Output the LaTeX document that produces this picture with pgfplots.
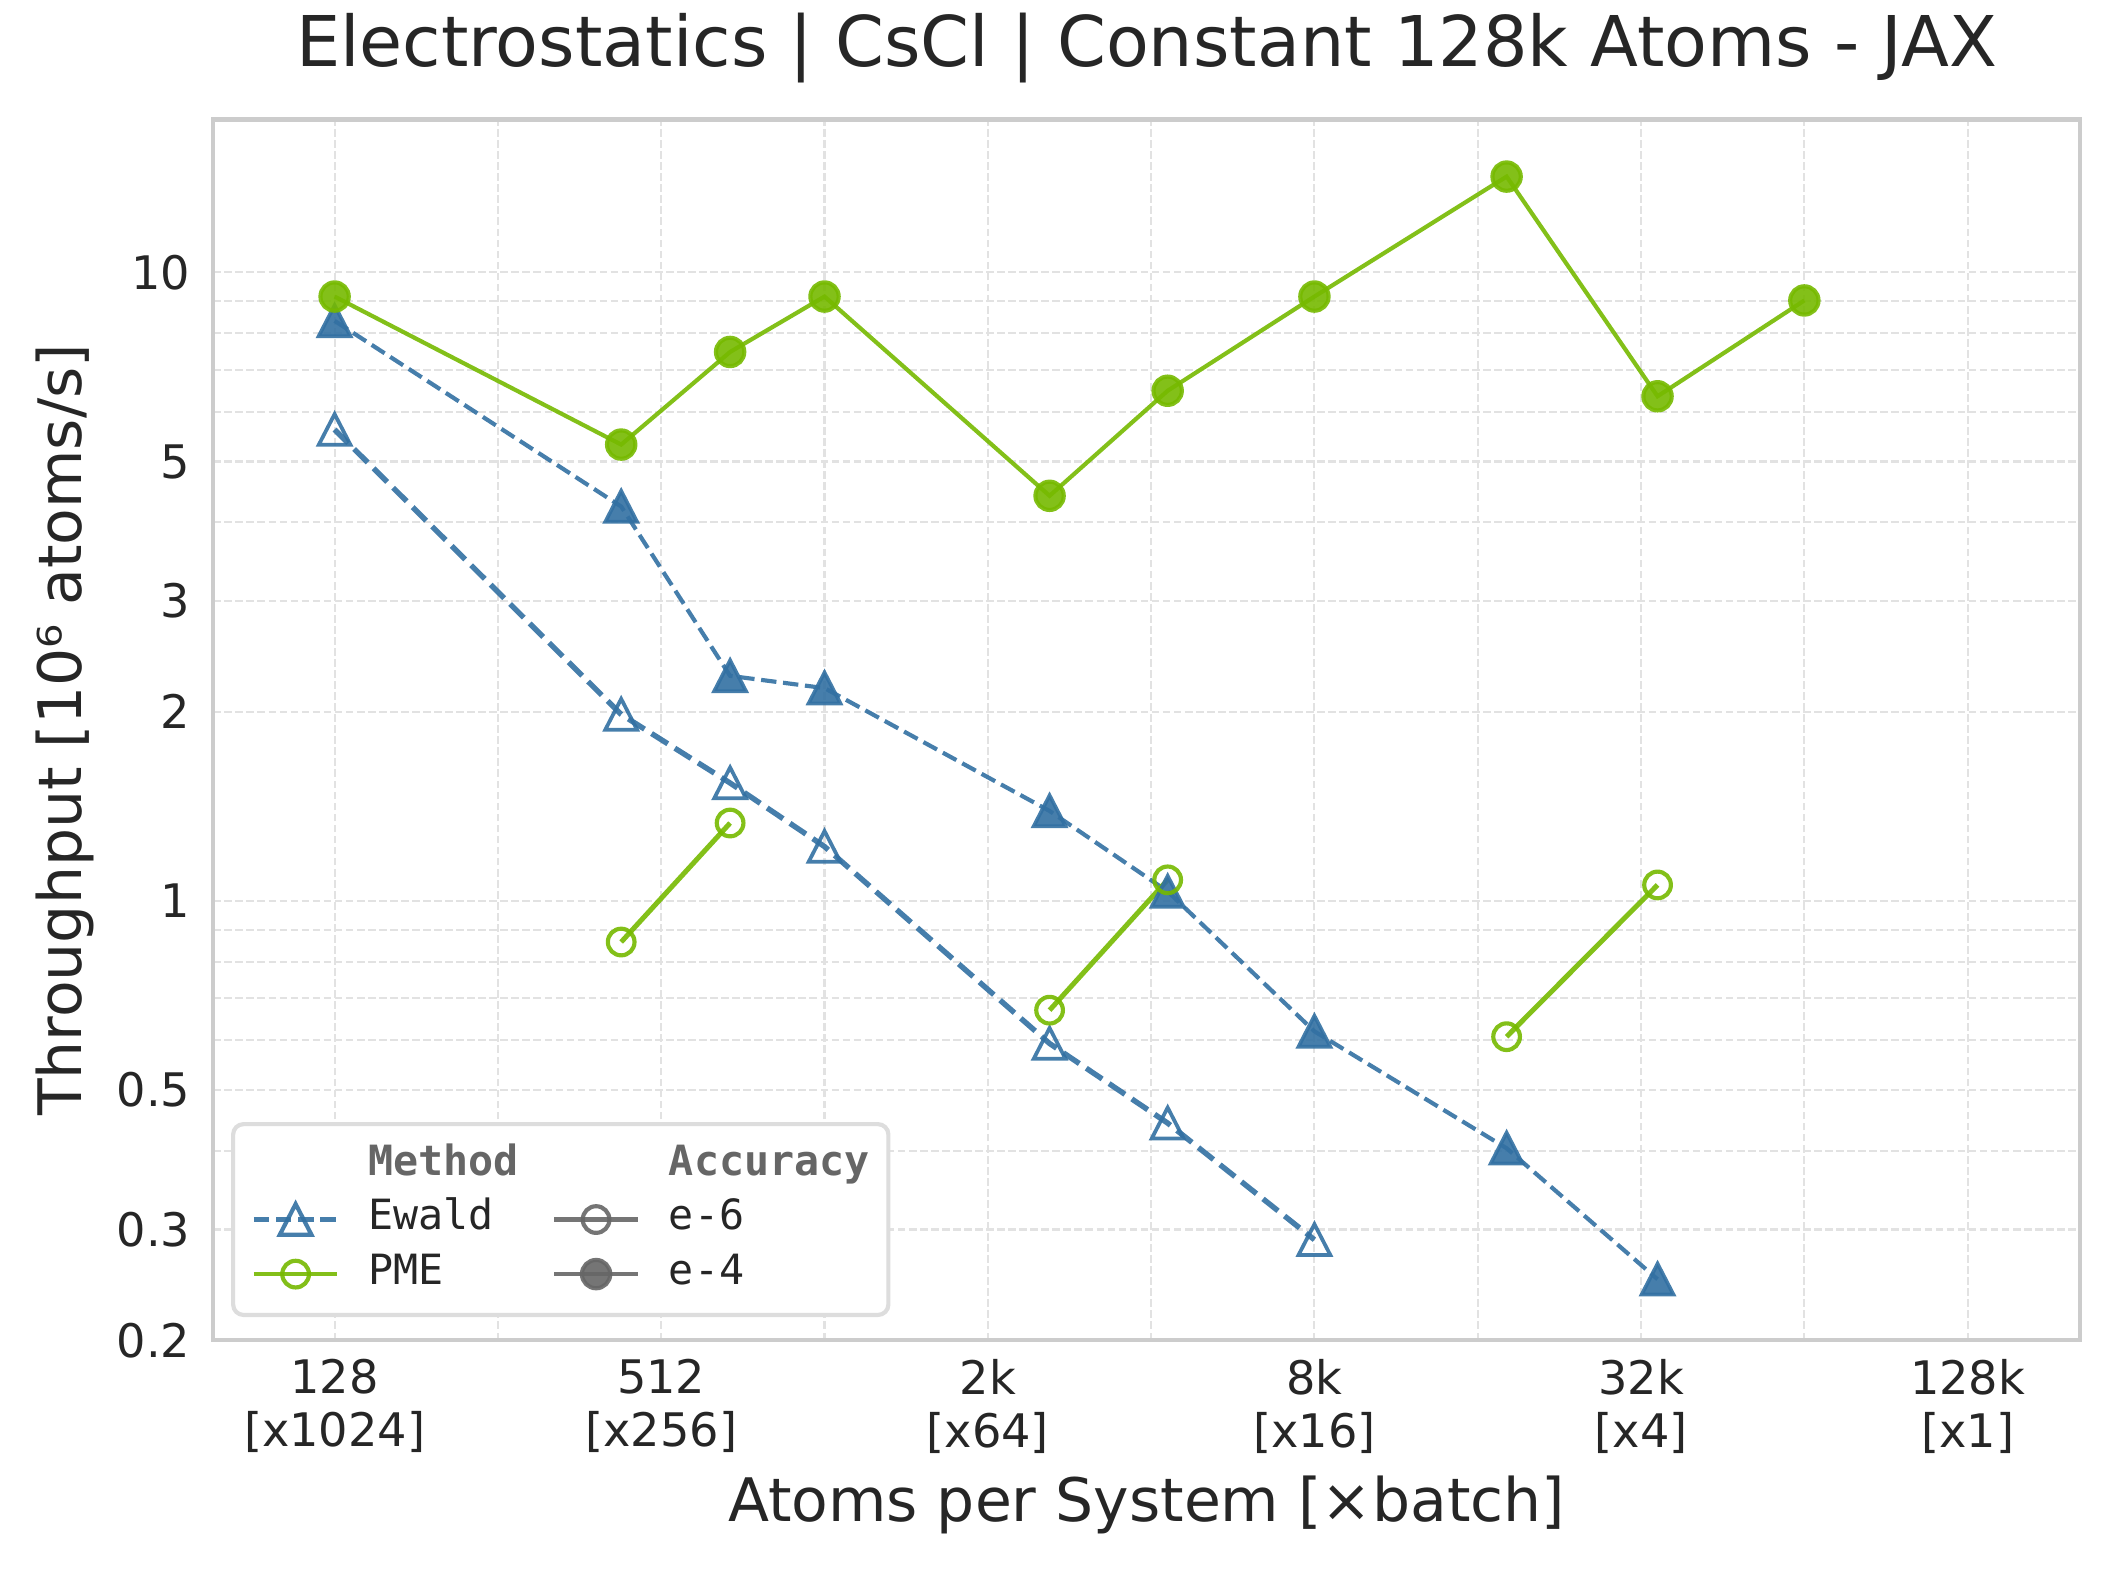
\documentclass[border=0pt]{standalone}
\usepackage{fontspec}
\setmainfont{DejaVu Sans}
\setmonofont{DejaVu Sans Mono}
\usepackage{pgfplots}
\pgfplotsset{compat=1.18}
\definecolor{nvgreen}{RGB}{118,185,0}
\definecolor{ewblue}{RGB}{50,112,162}
\definecolor{txt}{RGB}{38,38,38}
\definecolor{spine}{RGB}{204,204,204}
\definecolor{gridc}{RGB}{226,226,226}
\definecolor{leggray}{RGB}{102,102,102}
\definecolor{legedge}{RGB}{221,221,221}
\begin{document}
\begin{tikzpicture}
\begin{axis}[
  scale only axis, width=448bp, height=293bp,
  xmode=log, ymode=log,
  xmin=76.5, xmax=210900, ymin=0.2, ymax=17.5,
  xtick={128,512,2048,8192,32768,131072},
  xticklabels={{128\\{[x1024]}},{512\\{[x256]}},{2k\\{[x64]}},{8k\\{[x16]}},{32k\\{[x4]}},{128k\\{[x1]}}},
  minor xtick={256,1024,4096,16384,65536},
  ytick={0.2,0.3,0.5,1,2,3,5,10},
  yticklabels={0.2,0.3,0.5,1,2,3,5,10},
  minor ytick={0.4,0.6,0.7,0.8,0.9,4,6,7,8,9},
  grid=both,
  major grid style={draw=gridc, line width=0.5bp, dash pattern=on 1.85bp off 0.8bp},
  minor grid style={draw=gridc, line width=0.5bp, dash pattern=on 1.85bp off 0.8bp},
  major tick length=0pt, minor tick length=0pt,
  tick style={draw=none},
  axis line style={draw=spine, line width=1bp},
  ticklabel style={font=\fontsize{11.1bp}{12.6bp}\selectfont, text=txt},
  xticklabel style={align=center, inner sep=0pt, anchor=north, yshift=-4.4bp},
  yticklabel style={inner sep=0pt, anchor=east, xshift=-5.3bp},
  title={Electrostatics | CsCl | Constant 128k Atoms - JAX},
  title style={font=\fontsize{16.8bp}{20bp}\selectfont, text=txt, at={(0.5,1)}, anchor=base, yshift=6.8bp, inner sep=0pt},
  xlabel={Atoms per System [×batch]},
  xlabel style={font=\fontsize{14.4bp}{17bp}\selectfont, text=txt, at={(axis description cs:0.5,0)}, anchor=base, yshift=-43.5bp, inner sep=0pt},
  ylabel={Throughput [10⁶ atoms/s]},
  ylabel style={font=\fontsize{14.4bp}{17bp}\selectfont, text=txt, at={(axis description cs:-0.0705,0.5)}, anchor=base, inner sep=0pt},
  legend columns=2,
  legend cell align=left,
  legend image code/.code={\draw[mark repeat=2,mark phase=2] plot coordinates {(0bp,0bp)(10bp,0bp)(20bp,0bp)};},
  legend style={at={(0.0095,0.019)}, anchor=south west, draw=legedge, line width=1bp, rounded corners=2.5bp,
    fill=white, font=\ttfamily\fontsize{10bp}{12bp}\selectfont, text=txt,
    inner xsep=4.5bp, inner ysep=4.8bp, row sep=3.1bp,
    nodes={inner sep=0pt, text height=7.5bp, text depth=2.5bp},
    /tikz/every odd column/.append style={column sep=7bp},
    /tikz/every even column/.append style={column sep=8bp}},
]
% Ewald e-4
\addplot[forget plot, color=ewblue, opacity=0.9, line width=1bp, dash pattern=on 3.7bp off 1.6bp,
  mark=triangle*, mark size=4.4bp, mark options={solid, fill=ewblue, yshift=-1.2bp, yscale=1.12, line width=0.9bp}] coordinates {
  (128,8.37) (432,4.24) (686,2.28) (1024,2.18) (2662,1.39) (4394,1.035) (8192,0.62) (18522,0.404) (35152,0.25)};
% Ewald e-6
\addplot[forget plot, color=ewblue, opacity=0.9, line width=1.3bp, dash pattern=on 4.6bp off 2bp,
  mark=triangle, mark size=4.4bp, mark options={solid, yshift=-1.2bp, yscale=1.12, line width=0.9bp}] coordinates {
  (128,5.62) (432,1.98) (686,1.54) (1024,1.22) (2662,0.593) (4394,0.443) (8192,0.289)};
% PME e-4
\addplot[forget plot, color=nvgreen, opacity=0.9, line width=1bp, mark=*, mark size=3.4bp, mark options={fill=nvgreen}] coordinates {
  (128,9.15) (432,5.32) (686,7.47) (1024,9.15) (2662,4.41) (4394,6.48) (8192,9.15) (18522,14.2) (35152,6.35) (65536,9.02)};
% PME e-6 (segments)
\addplot[forget plot, color=nvgreen, opacity=0.9, line width=1.2bp, mark=o, mark size=3.2bp, mark options={line width=1bp}] coordinates {(432,0.86) (686,1.33)};
\addplot[forget plot, color=nvgreen, opacity=0.9, line width=1.2bp, mark=o, mark size=3.2bp, mark options={line width=1bp}] coordinates {(2662,0.67) (4394,1.08)};
\addplot[forget plot, color=nvgreen, opacity=0.9, line width=1.2bp, mark=o, mark size=3.2bp, mark options={line width=1bp}] coordinates {(18522,0.608) (35152,1.06)};
% legend
\addlegendimage{empty legend}
\addlegendentry{\textcolor{leggray}{\bfseries Method}}
\addlegendimage{empty legend}
\addlegendentry{\textcolor{leggray}{\bfseries Accuracy}}
\addlegendimage{color=ewblue, opacity=0.9, line width=1bp, dash pattern=on 3.7bp off 1.6bp, mark=triangle, mark size=4.4bp, mark options={solid, yshift=-1.2bp, yscale=1.12}}
\addlegendentry{Ewald}
\addlegendimage{color=leggray, opacity=0.9, line width=1bp, mark=o, mark size=3.2bp}
\addlegendentry{e-6}
\addlegendimage{color=nvgreen, opacity=0.9, line width=1bp, mark=o, mark size=3.2bp}
\addlegendentry{PME}
\addlegendimage{color=leggray, opacity=0.9, line width=1bp, mark=*, mark size=3.4bp, mark options={fill=leggray}}
\addlegendentry{e-4}
\end{axis}
\pgfresetboundingbox
\path[use as bounding box] (-51.2bp,-54.8bp) rectangle (457.2bp,321.7bp);
\end{tikzpicture}
\end{document}
